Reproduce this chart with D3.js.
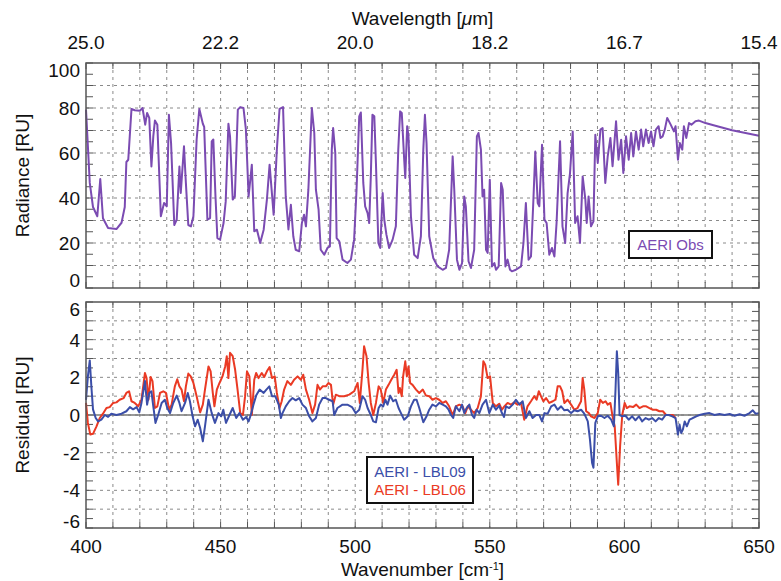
<!DOCTYPE html>
<html>
<head>
<meta charset="utf-8">
<script src="https://cdn.jsdelivr.net/npm/d3@7"></script>
<style>
  body { margin: 0; background: #fff; }
  text { font-family: "Liberation Sans", Arial, sans-serif; fill: #111; }
</style>
</head>
<body>
<div id="chart"></div>
<script>
// wavenumber ticks (bottom) and the matching wavelength labels (top)
let xTicks = [400, 450, 500, 550, 600, 650];
let topTickLabels = ["25.0", "22.2", "20.0", "18.2", "16.7", "15.4"];
let radTicks = [0, 20, 40, 60, 80, 100];
let resTicks = [-6, -4, -2, 0, 2, 4, 6];

// AERI observed radiance [wavenumber, RU]
let obsPoints = [
 [400,79.3],[401.4,46.7],[402.6,36],[404.2,31.9],[405.3,48.4],[406.3,31],[408.2,26.7],[411.3,26.2],[413.2,29],[414.4,36],
 [415,56],[415.7,57],[416.9,79.6],[418.1,79],[420,78.8],[421,80],[422,72.6],[422.7,77.8],[423.5,75.6],[424.3,54],
 [425,67.4],[425.6,74.4],[426.5,72.6],[427.8,31.9],[429,37.8],[430,36.3],[430.8,77],[431.6,64.4],[432.8,28],[433.7,30.4],
 [434.7,54],[435.2,42.2],[436.4,63],[437.1,46.7],[438,28],[439,27.4],[439.9,31.9],[441.1,66],[442.1,79.6],[443.4,73],
 [443.9,71.6],[445.1,30.4],[446.1,31.1],[446.7,65.2],[447.3,66],[448.1,40.7],[448.8,22.2],[449.8,21.5],[451.1,28.9],[451.9,38.5],
 [452.9,73],[453.5,67.4],[454.5,39.3],[455.3,40.7],[456.4,79.3],[457.3,80.4],[458.5,80],[459.4,70.4],[460.4,40.7],[461.6,54.8],
 [462.5,25.2],[463.5,25.9],[464.7,20],[466,25.9],[467.2,39.3],[468.2,54.8],[469.7,32.6],[470.9,61.5],[471.9,79.6],[473.2,80.4],
 [474.2,40.7],[475.2,26],[476.1,37],[477,23],[477.9,17],[479.2,16.3],[480.2,28.9],[481,32.6],[481.7,27.4],[482.6,43.7],
 [483.9,80],[484.8,68.9],[485.4,43.7],[486.4,34.8],[487.2,17],[488.5,14.8],[489.7,17.8],[490.6,18.5],[491.3,61.5],[491.8,71.1],
 [492.6,60],[493.1,22.2],[494.1,20.7],[495.3,12.6],[497.1,11.1],[498.4,12.6],[499.6,21.5],[500.5,43.7],[501.5,76.3],[502.1,78],
 [503,46.7],[503.7,36.3],[504.6,33.3],[505.2,28.9],[505.8,49.6],[506.4,77],[507.1,76.3],[507.7,55.6],[508.6,20],[509.3,17.8],
 [510.2,42.2],[510.8,30.4],[511.6,23.7],[512.6,17.8],[513.9,21.5],[515.1,27.4],[516,61.5],[516.7,78.5],[517.3,77.8],[518.2,57],
 [518.6,48.9],[519.3,71.9],[519.8,67.4],[520.7,31.9],[521.9,14.8],[523.2,13.3],[524.4,23],[525.3,61.5],[525.9,77],[526.5,64.4],
 [527.5,23],[529,13.3],[530.6,9.6],[532.5,8.1],[533.7,8.9],[534.9,17],[536.2,58.5],[536.8,43.7],[537.8,12.6],[538.7,8.1],
 [539.7,11.1],[540.5,40.7],[541.1,36.3],[542.1,11.9],[543,8.9],[544.2,17],[545.2,67.4],[545.8,68.9],[546.7,61.5],[547.3,40.7],
 [547.9,43.7],[548.6,17],[549.2,15.6],[550,48.1],[550.8,9.6],[551.7,11.1],[552.3,8.1],[553.3,9.6],[554.2,46.7],[554.8,43.7],
 [555.8,9.6],[556.6,12.6],[557.5,8.1],[558.2,7.4],[559.7,8.1],[561.6,9.6],[562.5,20],[563.4,37.8],[564.4,12.6],[565.3,14],
 [566.2,39.3],[566.9,60.7],[567.8,37.8],[568.4,36.3],[569.4,63.7],[570.3,30.4],[571.1,28.9],[572.1,14.8],[573.1,17.8],[574,14],
 [574.8,28.9],[576.1,65.2],[577,27.4],[578,20],[578.9,42.2],[579.8,51.1],[580.8,69.6],[581.7,28.9],[582.6,31.9],[583.5,20],
 [584.5,49.6],[585.5,39.3],[586,28.9],[586.7,40.7],[587.6,27.4],[588.5,29.6],[589.2,68.1],[590.1,55.6],[591.1,70.4],[591.9,71.1],
 [592.9,46.7],[593.8,58.5],[594.8,66.7],[595.6,54.1],[596.9,74.1],[597.8,57],[598.8,65.9],[599.6,51.1],[600.6,67.4],[601.6,57],
 [602.5,68.9],[603.3,58.5],[604.3,69.6],[605.3,61.5],[606.2,70.4],[607,63],[608,70.4],[609,64.4],[609.9,69.6],[610.8,63],
 [611.7,70.4],[612.7,71.9],[613.4,66.7],[614.2,67.4],[615,70.4],[615.9,75.6],[617.2,72.6],[618.4,69.6],[619,71.9],[619.9,57],
 [620.6,64.4],[621.5,61.5],[622.1,71.9],[623,66.7],[624,73.3],[624.9,72.6],[626.4,74.1],[627.7,74.4],[630.1,73.3],[633.8,72.1],
 [640,70.1],[645,68.9],[650,67.7]
];

// residual AERI - LBL09 [wavenumber, RU]
let lbl09Points = [
 [400,0.8],[400.7,2.05],[401.4,2.9],[402,1.5],[402.6,0.3],[403.6,-0.16],[404.5,-0.34],[405.7,-0.25],[407,0],[408.2,-0.1],
 [409.4,0.07],[411.3,0],[413.2,0.07],[415,0.2],[416.3,0.42],[417.5,0.3],[418.8,0.42],[419.8,0.14],[420.6,0.64],[421.9,1.8],
 [422.7,0.55],[423.5,1.17],[424.3,1.26],[425,0.46],[425.8,-0.42],[426.8,0],[428.1,0.64],[429.3,0.81],[430.2,0.37],[431.2,0.1],
 [432.4,0.64],[433.7,1.03],[434.7,0.64],[435.5,0.2],[436.8,0.64],[437.8,1.17],[438.6,0.73],[439.6,-0.07],[440.5,-0.6],[441.5,-0.25],
 [442.4,-0.69],[443.4,-1.4],[444.2,-0.6],[445.5,0.81],[446.7,0.1],[447.9,-0.42],[449.2,0.1],[450.2,-0.07],[451,0.28],[452,-0.42],
 [453.3,0],[454.5,0.37],[455.8,-0.16],[457,0.1],[458.3,-0.25],[459.5,-0.1],[460.4,-0.34],[461.2,0],[462.2,0.55],[463.2,1.03],
 [464.5,1.35],[466,1.17],[467,1.35],[468.1,1.52],[469.1,1],[470.3,1],[471.6,0.55],[472.4,-0.16],[473,0.1],[474.2,0.46],
 [475.5,0.73],[476.7,0.9],[477.9,0.78],[479.2,0.9],[480.4,0.55],[481.7,0.37],[482.9,-0.07],[484.1,-0.34],[485.4,-0.16],[486.6,0.55],
 [487.9,0.9],[489.1,0.9],[490.3,0.81],[491.6,0.73],[492.2,0],[493.4,0.37],[495.3,0.55],[497.1,0.55],[498.8,0.42],[500.2,0.1],
 [501.5,0.28],[502.7,1],[503.7,0.81],[504.6,0.37],[505.8,0],[506.7,-0.34],[507.7,-0.39],[508.7,0.37],[509.5,0.55],[510.4,0.46],
 [511.2,0.81],[512,0.55],[513,1.03],[514.1,0.73],[515.1,0.81],[516.1,0.37],[517,0.1],[518.2,-0.25],[519.5,-0.07],[520.7,0.46],
 [521.9,0.81],[522.8,0.81],[523.8,0.37],[525.3,-0.39],[526.5,-0.07],[527.5,0.28],[528.7,0.55],[530,0.46],[531.2,0.64],[532.5,0.55],
 [533.7,0.46],[534.7,0.28],[535.6,0],[536.4,-0.16],[537.4,0.46],[538.7,0.2],[539.7,0.55],[540.5,0.1],[541.4,0.37],[542.4,0.55],
 [543.4,0],[544.2,-0.16],[545.1,0.28],[546.1,0.1],[547.3,0.55],[548.6,0.81],[549.8,0.1],[551.1,0.55],[552.3,0.28],[553.5,0.5],
 [554.5,0.1],[555.3,-0.1],[556,0.46],[557.2,0.37],[558.5,0.55],[559.7,0.81],[561,0.55],[562.2,0.73],[563.4,-0.16],[564.7,0.2],
 [565.9,-0.16],[567.2,0],[568.4,0],[569.4,-0.34],[570.3,0.1],[571.5,0.07],[572.8,0.46],[574,0.55],[575.2,0.28],[576.5,0.46],
 [577.7,0.25],[578.9,0.28],[580.2,0.1],[581.4,0.25],[582.6,0.2],[583.9,0.28],[585.1,0.07],[586.4,-0.34],[587.2,-1.3],[588,-2.55],
 [588.5,-2.8],[589.2,-0.42],[590.1,-0.07],[591.3,-0.04],[592.6,-0.16],[593.8,-0.04],[595.1,-0.25],[596.1,-0.6],[596.7,1.35],[597.2,3.38],
 [597.7,2.23],[598.2,0],[599.2,-0.07],[600.4,-0.04],[601.6,-0.25],[602.9,-0.07],[604.1,-0.28],[605.4,-0.07],[606.6,-0.34],[607.9,-0.16],
 [609.1,-0.25],[610.3,-0.16],[611.6,-0.34],[612.8,-0.16],[614,-0.25],[615.3,0],[616.5,0],[617.8,-0.07],[619,-0.16],[619.9,-1.04],
 [620.5,-0.51],[621.1,-0.96],[621.7,-0.78],[622.4,-0.34],[623.2,-0.6],[624.2,-0.25],[625.4,-0.16],[626.7,-0.07],[627.9,0],[629.8,0.07],
 [631.6,0.1],[633.5,0],[635.3,0.05],[637.2,0],[639.1,0.05],[640.9,-0.04],[642.8,0.04],[644.6,-0.04],[646.5,0.1],[647.7,0.25],
 [648.7,0.07],[650,0.1]
];

// residual AERI - LBL06 [wavenumber, RU]
let lbl06Points = [
 [400,0.64],[400.7,-0.42],[401.6,-1.04],[402.6,-1],[403.9,-0.6],[405.1,-0.16],[406.3,0.07],[407.6,0.37],[408.8,0.42],[410.1,0.64],
 [411.3,0.67],[412.5,0.81],[414,0.9],[415,1.17],[416,1.26],[416.9,0.73],[418.1,0.64],[419.4,0.46],[420.6,0.81],[421.9,2.23],
 [422.5,1.96],[423.2,0.81],[424,2.02],[424.7,1.8],[425.6,0.37],[426.5,0.46],[427.5,1.17],[428.7,1.26],[429.7,1.17],[430.9,0.28],
 [431.8,0.55],[433,1.52],[433.9,1.9],[434.7,1.52],[435.5,1.35],[436.4,0.73],[437.1,1.52],[438,2.2],[438.9,2.05],[439.9,1.7],
 [441.1,1],[442.4,0.14],[443.4,0.55],[444.2,1.35],[445.5,2.58],[446.3,2.32],[447.1,1.17],[447.7,0.46],[448.6,1.35],[449.6,1.7],
 [450.7,2.05],[451.7,2.58],[452.3,3.12],[452.9,1.96],[453.5,3.3],[454.5,3.12],[455.4,2.4],[456.3,1.35],[457.3,0.1],[458.3,0],
 [459.1,1],[459.8,2.32],[460.7,2.05],[461.6,0],[462.5,1.87],[463.2,2.23],[464.1,1.96],[465.3,2.23],[466.2,2.02],[467.2,2.32],
 [468.2,2.55],[469.1,1.96],[470.1,2.05],[470.9,1.17],[471.9,0.37],[472.7,0.73],[473.6,1.35],[474.8,1.8],[476.1,1.6],[477.3,1.87],
 [478.6,2.05],[479.8,1.87],[480.7,2.14],[481.7,1.35],[482.9,0.81],[484.1,0.1],[485.1,0.55],[486,1.6],[486.9,1.35],[487.9,1.52],
 [489.1,1.52],[490.1,1.7],[491,1.6],[491.8,0.55],[492.8,1.08],[494.1,1],[495.9,1],[497.8,1.08],[499.6,1.26],[500.9,1.7],
 [501.7,0.64],[502.7,2.4],[503.3,3.65],[504.2,3.12],[505,1.7],[505.8,0.64],[506.7,0],[507.7,0.64],[508.7,1.52],[509.5,1.35],
 [510.4,0.64],[511.4,1.35],[512.4,1.6],[513.4,1.87],[514.5,2.14],[515.4,2.4],[516.1,1.17],[516.6,1.43],[517.3,1],[517.8,2.05],
 [518.6,2.85],[519.2,2.05],[519.8,2.58],[520.4,1.7],[521.3,1.6],[522.6,1.35],[523.8,1.17],[525.1,1.35],[526.3,1.03],[527.5,1],
 [528.7,0.81],[530,0.9],[531.2,0.81],[532.5,0.64],[533.7,0.73],[534.9,0.46],[536.2,0],[537.4,0.46],[538.7,0.55],[539.9,0.46],
 [540.9,0.1],[541.8,0.46],[543,0.28],[544.2,0.1],[545.5,0.37],[546.7,1],[547.6,2.85],[548.3,2.67],[549.2,1.96],[550.1,2.05],
 [551.1,0.64],[552.3,0.46],[553.5,0.6],[554.5,0.28],[555.4,0.46],[556.6,0.64],[557.9,0.55],[559.1,0.67],[560.3,0.55],[561.6,0.64],
 [562.8,-0.25],[564,0.46],[565.3,0.73],[566.5,1],[567.4,0.81],[568.2,1.26],[569,1],[569.9,0.73],[570.9,0.9],[572.1,0.64],
 [573.4,0.73],[574.4,0.81],[575.2,1.52],[576.1,1.52],[576.9,1.26],[577.7,0.64],[578.9,0.81],[580.2,0.55],[581.4,0.28],[582.6,0.37],
 [583.9,0.73],[584.5,1.96],[585.1,1.35],[585.8,0.2],[586.8,0.1],[587.6,-0.07],[588.9,-0.16],[590.1,0.1],[591,0.81],[592,0.64],
 [593,0.73],[593.8,0.55],[594.8,0.64],[595.6,-0.07],[596.4,-0.6],[597.2,-2.55],[597.7,-3.7],[598.4,-1.66],[599.2,0],[600.1,0.64],
 [600.9,0.37],[601.9,0.46],[603.2,0.42],[604.4,0.55],[605.6,0.37],[606.9,0.46],[608.1,0.46],[609.3,0.37],[610.6,0.28],[611.8,0.28],
 [613,0.2],[614.3,0.2],[615.5,0],[616.8,0],[618,0],[619,-0.16]
];

let W = 781, H = 581;
let left = 86, right = 759;
let top1 = 63, bot1 = 288, top2 = 302, bot2 = 528;

let svg = d3.select("#chart").append("svg")
    .attr("width", W)
    .attr("height", H);

let x = d3.scaleLinear().domain([400, 650]).range([left, right]);
let yRad = d3.scaleLinear().domain([0, 100]).range([bot1, top1]);
let yRes = d3.scaleLinear().domain([-6, 6]).range([bot2, top2]);

let gridColor = "#8a8a8a";
let frameColor = "#555";

function panel(y, yMin, yMax, gridStep, minorStep, topPx, botPx) {
    let g = svg.append("g");
    // vertical dashed grid every 10 cm-1
    g.selectAll(".vg").data(d3.range(410, 650, 10)).enter().append("line")
        .attr("x1", d => x(d)).attr("x2", d => x(d))
        .attr("y1", topPx).attr("y2", botPx)
        .attr("stroke", gridColor).attr("stroke-width", 1)
        .attr("stroke-dasharray", "3,4");
    // horizontal dashed grid
    let hv = d3.range(yMin + gridStep, yMax - gridStep / 2, gridStep);
    g.selectAll(".hg").data(hv).enter().append("line")
        .attr("x1", left).attr("x2", right)
        .attr("y1", d => y(d)).attr("y2", d => y(d))
        .attr("stroke", gridColor).attr("stroke-width", 1)
        .attr("stroke-dasharray", "3,4");
    // minor ticks left/right
    let mv = d3.range(yMin, yMax + minorStep / 2, minorStep);
    g.selectAll(".tl").data(mv).enter().append("line")
        .attr("x1", left).attr("x2", left + 7)
        .attr("y1", d => y(d)).attr("y2", d => y(d))
        .attr("stroke", frameColor).attr("stroke-width", 1);
    g.selectAll(".tr").data(mv).enter().append("line")
        .attr("x1", right - 7).attr("x2", right)
        .attr("y1", d => y(d)).attr("y2", d => y(d))
        .attr("stroke", frameColor).attr("stroke-width", 1);
    // ticks top/bottom
    let xv = d3.range(400, 651, 10);
    g.selectAll(".tt").data(xv).enter().append("line")
        .attr("x1", d => x(d)).attr("x2", d => x(d))
        .attr("y1", topPx).attr("y2", topPx + 6)
        .attr("stroke", frameColor);
    g.selectAll(".tb").data(xv).enter().append("line")
        .attr("x1", d => x(d)).attr("x2", d => x(d))
        .attr("y1", botPx - 6).attr("y2", botPx)
        .attr("stroke", frameColor);
    return g;
}

panel(yRad, 0, 100, 10, 5, top1, bot1);
panel(yRes, -6, 6, 1, 0.5, top2, bot2);

// zero line of residual panel
svg.append("line")
    .attr("x1", left).attr("x2", right)
    .attr("y1", yRes(0)).attr("y2", yRes(0))
    .attr("stroke", "#777").attr("stroke-width", 1.5);

let lineRad = d3.line().x(d => x(d[0])).y(d => yRad(d[1]));
let lineRes = d3.line().x(d => x(d[0])).y(d => yRes(d[1]));

svg.append("path").datum(obsPoints)
    .attr("d", lineRad)
    .attr("fill", "none")
    .attr("stroke", "#7b4bb2")
    .attr("stroke-width", 2)
    .attr("stroke-linejoin", "round");

svg.append("path").datum(lbl06Points)
    .attr("d", lineRes)
    .attr("fill", "none")
    .attr("stroke", "#ea3a24")
    .attr("stroke-width", 2)
    .attr("stroke-linejoin", "round");

svg.append("path").datum(lbl09Points)
    .attr("d", lineRes)
    .attr("fill", "none")
    .attr("stroke", "#3b4ea8")
    .attr("stroke-width", 2)
    .attr("stroke-linejoin", "round");

// frames
[[top1, bot1], [top2, bot2]].forEach(p => {
    svg.append("rect")
        .attr("x", left).attr("y", p[0])
        .attr("width", right - left).attr("height", p[1] - p[0])
        .attr("fill", "none")
        .attr("stroke", frameColor).attr("stroke-width", 1.5);
});

// tick labels: bottom wavenumber
svg.selectAll(".xl").data(xTicks).enter().append("text")
    .attr("x", d => x(d)).attr("y", 553)
    .attr("text-anchor", "middle")
    .style("font-size", "19px")
    .text(d => d);

// top wavelength
svg.selectAll(".wl").data(xTicks).enter().append("text")
    .attr("x", d => x(d)).attr("y", 49)
    .attr("text-anchor", "middle")
    .style("font-size", "19px")
    .text((d, i) => topTickLabels[i]);

// left labels (end values nudged inside like the original)
svg.selectAll(".rl").data(radTicks).enter().append("text")
    .attr("x", 80)
    .attr("y", d => yRad(d) + 7 + (d == 0 ? -8 : d == 100 ? 7 : 0))
    .attr("text-anchor", "end")
    .style("font-size", "19px")
    .text(d => d);

svg.selectAll(".sl").data(resTicks).enter().append("text")
    .attr("x", 80)
    .attr("y", d => yRes(d) + 7 + (d == -6 ? -7 : d == 6 ? 7 : 0))
    .attr("text-anchor", "end")
    .style("font-size", "19px")
    .text(d => d);

// axis titles
let wt = svg.append("text")
    .attr("x", (left + right) / 2).attr("y", 25)
    .attr("text-anchor", "middle")
    .style("font-size", "19px");
wt.append("tspan").text("Wavelength [");
wt.append("tspan").style("font-style", "italic").text("\u03bc");
wt.append("tspan").text("m]");

let nt = svg.append("text")
    .attr("x", (left + right) / 2).attr("y", 576)
    .attr("text-anchor", "middle")
    .style("font-size", "19px");
nt.append("tspan").text("Wavenumber [cm");
nt.append("tspan").attr("dy", -6).style("font-size", "11px").text("-1");
nt.append("tspan").attr("dy", 6).text("]");

svg.append("text")
    .attr("transform", "translate(29," + ((top1 + bot1) / 2) + ") rotate(-90)")
    .attr("text-anchor", "middle")
    .style("font-size", "19px")
    .text("Radiance [RU]");

svg.append("text")
    .attr("transform", "translate(29," + ((top2 + bot2) / 2) + ") rotate(-90)")
    .attr("text-anchor", "middle")
    .style("font-size", "19px")
    .text("Residual [RU]");

// legends
svg.append("rect")
    .attr("x", 629).attr("y", 231).attr("width", 83).attr("height", 27)
    .attr("fill", "#fff").attr("stroke", "#111").attr("stroke-width", 2);
svg.append("text")
    .attr("x", 670.5).attr("y", 250)
    .attr("text-anchor", "middle")
    .style("font-size", "15px").style("fill", "#7b4bb2")
    .text("AERI Obs");

svg.append("rect")
    .attr("x", 367).attr("y", 457).attr("width", 106).attr("height", 46)
    .attr("fill", "#fff").attr("stroke", "#111").attr("stroke-width", 2);
svg.append("text")
    .attr("x", 420).attr("y", 477)
    .attr("text-anchor", "middle")
    .style("font-size", "15px").style("fill", "#3b4ea8")
    .text("AERI - LBL09");
svg.append("text")
    .attr("x", 420).attr("y", 495)
    .attr("text-anchor", "middle")
    .style("font-size", "15px").style("fill", "#ea3a24")
    .text("AERI - LBL06");
</script>
</body>
</html>
